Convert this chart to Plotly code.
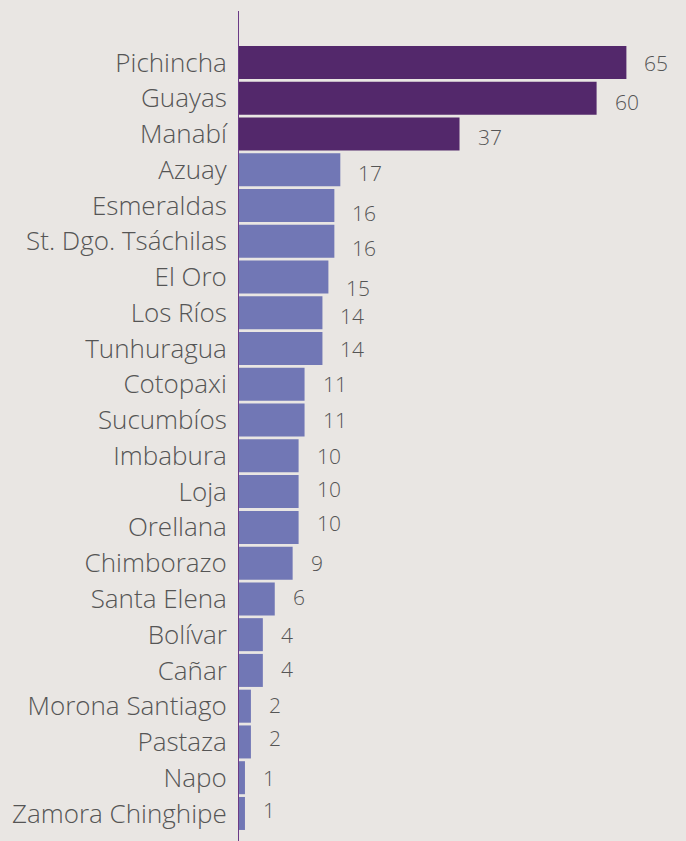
import plotly.graph_objects as go

provinces = ["Pichincha", "Guayas", "Manabí", "Azuay", "Esmeraldas", "St. Dgo. Tsáchilas",
             "El Oro", "Los Ríos", "Tunhuragua", "Cotopaxi", "Sucumbíos", "Imbabura", "Loja",
             "Orellana", "Chimborazo", "Santa Elena", "Bolívar", "Cañar", "Morona Santiago",
             "Pastaza", "Napo", "Zamora Chinghipe"]
values = [65, 60, 37, 17, 16, 16, 15, 14, 14, 11, 11, 10, 10, 10, 9, 6, 4, 4, 2, 2, 1, 1]
# vertical nudges of value labels seen in the reference (pixels, positive = down)
label_nudge = [0, 3.5, 3, 3.5, 7, 6.5, 11, 3.5, 0, 0, 0, 0, -3, -4, 0, -2, 0, -1, -1.5, -4, 0, -3.5]

DARK = "#53286b"
LIGHT = "#7177b5"
BG = "#e9e6e3"
TXT = "#555555"
FONT = "Open Sans"

colors = [DARK if v >= 30 else LIGHT for v in values]

fig = go.Figure(go.Bar(
    x=values, y=provinces, orientation="h",
    marker=dict(color=colors, line=dict(width=0)),
    hoverinfo="x+y",
))

for p, v, n in zip(provinces, values, label_nudge):
    fig.add_annotation(x=v, y=p, text=str(v), showarrow=False,
                       xanchor="left", yanchor="middle", xshift=16, yshift=-n,
                       font=dict(family=FONT, size=21, color=TXT, weight=300))

fig.update_layout(
    width=686, height=841,
    margin=dict(l=239, r=0, t=11, b=0),
    paper_bgcolor=BG, plot_bgcolor=BG,
    bargap=0.077,
    showlegend=False,
    font=dict(family=FONT, color=TXT),
)
fig.update_xaxes(range=[0, 75], visible=False, showgrid=False, zeroline=False)
fig.update_yaxes(
    type="category", categoryorder="array", categoryarray=provinces,
    range=[21.77, -1.44], showgrid=False, zeroline=False,
    showline=True, linecolor="#6b3a86", linewidth=1,
    ticks="", ticklabelstandoff=6,
    tickfont=dict(family=FONT, size=26, color=TXT, weight=300),
)

fig.write_html("out.html", config={"displayModeBar": False},
               post_script="document.body.style.margin='0';document.body.style.background='%s';" % BG)
